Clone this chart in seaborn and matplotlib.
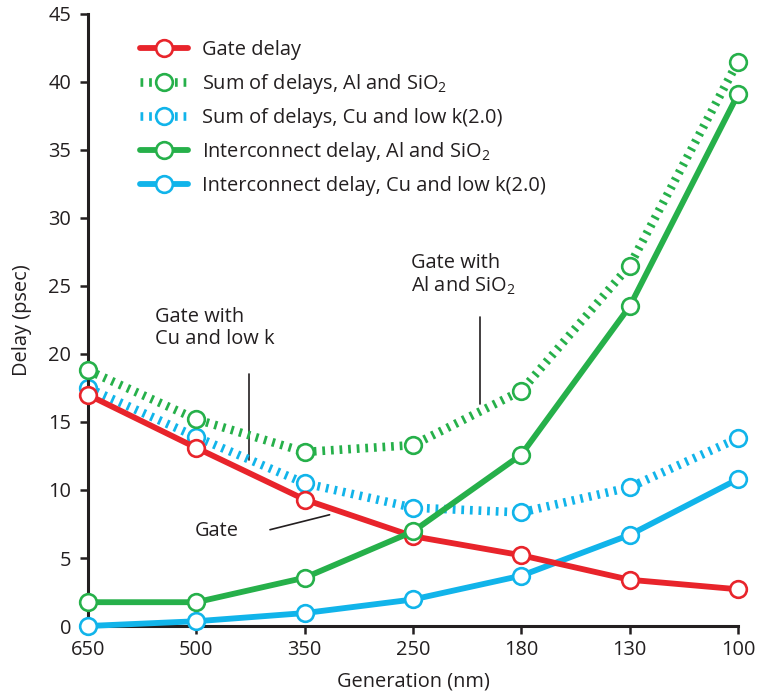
import matplotlib
matplotlib.use("Agg")
import matplotlib.pyplot as plt
import seaborn as sns
import pandas as pd

generations = ["650", "500", "350", "250", "180", "130", "100"]
gate_delay = [17.0, 13.1, 9.3, 6.6, 5.2, 3.4, 2.7]
sum_al_sio2 = [18.8, 15.2, 12.8, 13.3, 17.3, 26.5, 41.5]
sum_cu_lowk = [17.5, 13.9, 10.5, 8.7, 8.35, 10.2, 13.8]
inter_al_sio2 = [1.75, 1.75, 3.55, 6.95, 12.6, 23.5, 39.1]
inter_cu_lowk = [0.0, 0.35, 0.95, 1.95, 3.7, 6.7, 10.8]

RED = "#E8242B"
GREEN = "#26B04A"
BLUE = "#11B4EA"
INK = "#231F20"
FS = 14.4

sns.set_theme(style="ticks")
plt.rcParams["font.family"] = ["Open Sans", "DejaVu Sans"]
plt.rcParams["mathtext.default"] = "regular"

fig = plt.figure(figsize=(7.61, 6.94), dpi=100)
ax = fig.add_axes([88 / 761, 1 - 626 / 694, 650 / 761, 612 / 694])

xpos = list(range(len(generations)))
sub2 = r"$\mathregular{_2}$"
series = [
    ("Gate delay", gate_delay, RED, "solid"),
    ("Sum of delays, Al and SiO" + sub2, sum_al_sio2, GREEN, "dot"),
    ("Sum of delays, Cu and low k(2.0)", sum_cu_lowk, BLUE, "dot"),
    ("Interconnect delay, Al and SiO" + sub2, inter_al_sio2, GREEN, "solid"),
    ("Interconnect delay, Cu and low k(2.0)", inter_cu_lowk, BLUE, "solid"),
]
zorders = {0: 5, 1: 3, 2: 2, 3: 6, 4: 4}
dotted = (0, (0.32, 0.68))
for i, (name, vals, col, style) in enumerate(series):
    df = pd.DataFrame({"x": xpos, "y": vals})
    if style == "dot":
        ls, lw = dotted, 6.2
    else:
        ls, lw = "-", 4.2
    sns.lineplot(data=df, x="x", y="y", ax=ax, color=col, lw=lw,
                 linestyle=ls, marker="o", markersize=12,
                 markerfacecolor="white", markeredgecolor=col,
                 markeredgewidth=1.9, label=name, clip_on=False,
                 zorder=zorders[i], sort=False)

ax.set_xlim(0, 6)
ax.set_ylim(0, 45)
ax.set_xticks(xpos)
ax.set_xticklabels(generations)
ax.set_yticks(range(0, 46, 5))
ax.set_xlabel("Generation (nm)", fontsize=FS, color=INK, labelpad=8)
ax.set_ylabel("Delay (psec)", fontsize=FS, color=INK, labelpad=12)
for s in ["top", "right"]:
    ax.spines[s].set_visible(False)
for s in ["left", "bottom"]:
    ax.spines[s].set_linewidth(2.2)
    ax.spines[s].set_color(INK)
ax.tick_params(axis="both", length=6, width=1.8, color=INK,
               labelsize=FS, labelcolor=INK)
ax.tick_params(axis="y", pad=6)
ax.tick_params(axis="x", pad=4)

leg = ax.legend(loc="upper left", bbox_to_anchor=(0.08, 0.958), frameon=False,
                fontsize=FS, handlelength=2.4, handletextpad=0.7,
                labelspacing=0.6, borderaxespad=0, borderpad=0)
for t in leg.get_texts():
    t.set_color(INK)

ax.text(0.62, 21.9, "Gate with\nCu and low k", fontsize=FS, color=INK,
        va="center", ha="left", linespacing=1.1)
ax.plot([1.486, 1.486], [18.5, 12.2], color=INK, lw=1.2, zorder=1)
ax.text(2.98, 25.8, "Gate with\nAl and SiO" + sub2, fontsize=FS, color=INK,
        va="center", ha="left", linespacing=1.1)
ax.plot([3.62, 3.62], [22.7, 16.3], color=INK, lw=1.2, zorder=1)
ax.text(0.99, 6.95, "Gate", fontsize=FS, color=INK, va="center", ha="left")
ax.plot([1.68, 2.23], [7.08, 8.18], color=INK, lw=1.2, zorder=1)

fig.savefig("out.png", dpi=100)
